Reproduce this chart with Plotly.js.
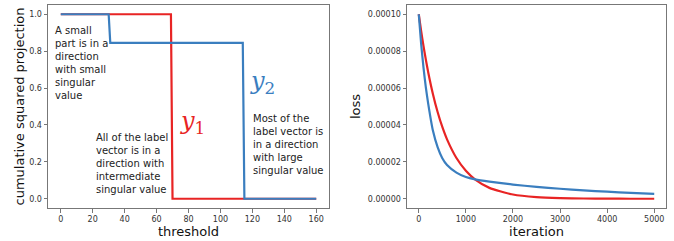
<!DOCTYPE html>
<html>
<head>
<meta charset="utf-8">
<script src="https://cdn.plot.ly/plotly-3.0.1.min.js"></script>
<style>html,body{margin:0;padding:0;background:#fff}#plot{width:674px;height:241px}</style>
</head>
<body>
<div id="plot"></div>
<script>
// Left panel: cumulative squared projection vs threshold
const thrY1 = [0, 69, 70, 160];
const projY1 = [1.0, 1.0, 0.0, 0.0];
const thrY2 = [0, 30, 31, 114, 115, 160];
const projY2 = [1.0, 1.0, 0.845, 0.845, 0.0, 0.0];

// Right panel: loss vs iteration
const iters = [0, 50, 100, 150, 200, 300, 400, 500, 600, 800, 1000, 1200, 1500, 2000, 2500, 3000, 3500, 4000, 4500, 5000];
const lossY1 = [10.0, 9.10, 8.28, 7.54, 6.86, 5.68, 4.70, 3.89, 3.22, 2.21, 1.52, 1.04, 0.59, 0.23, 0.089, 0.035, 0.014, 0.005, 0.002, 0.001].map(v => v * 1e-5);
const lossY2 = [10.0, 8.40, 7.12, 6.03, 5.16, 3.70, 2.80, 2.20, 1.83, 1.42, 1.18, 1.05, 0.93, 0.77, 0.647, 0.543, 0.455, 0.382, 0.320, 0.270].map(v => v * 1e-5);

const xTicksL = [0, 20, 40, 60, 80, 100, 120, 140, 160];
const yTicksL = [0.0, 0.2, 0.4, 0.6, 0.8, 1.0];
const yTickTextL = ['0.0', '0.2', '0.4', '0.6', '0.8', '1.0'];
const xTicksR = [0, 1000, 2000, 3000, 4000, 5000];
const yTicksR = [0, 0.00002, 0.00004, 0.00006, 0.00008, 0.0001];
const yTickTextR = ['0.00000', '0.00002', '0.00004', '0.00006', '0.00008', '0.00010'];

const RED = '#e82424';
const BLUE = '#3a7ebf';
const W = 674, H = 241;
const px = x => x / W;
const py = y => 1 - y / H;

const traces = [
  {x: thrY1, y: projY1, xaxis: 'x', yaxis: 'y', mode: 'lines', line: {color: RED, width: 2.2}, hoverinfo: 'skip'},
  {x: thrY2, y: projY2, xaxis: 'x', yaxis: 'y', mode: 'lines', line: {color: BLUE, width: 2.2}, hoverinfo: 'skip'},
  {x: iters, y: lossY1, xaxis: 'x2', yaxis: 'y2', mode: 'lines', line: {color: RED, width: 2.2, shape: 'spline', smoothing: 0.6}, hoverinfo: 'skip'},
  {x: iters, y: lossY2, xaxis: 'x2', yaxis: 'y2', mode: 'lines', line: {color: BLUE, width: 2.2, shape: 'spline', smoothing: 0.6}, hoverinfo: 'skip'}
];

const tickFont = {family: 'DejaVu Sans', size: 8, color: '#333'};
const titleFont = {family: 'DejaVu Sans', size: 13, color: '#111'};
const axCommon = {
  showgrid: false, zeroline: false, showline: true, mirror: true,
  linecolor: '#777', linewidth: 1, ticks: 'outside', ticklen: 3.5,
  tickcolor: '#555', tickwidth: 0.8, tickfont: tickFont
};

const annFont = {family: 'DejaVu Sans', size: 10, color: '#222'};
const annotations = [
  {text: 'A small<br>part is in a<br>direction<br>with small<br>singular<br>value', x: px(53), y: py(63.5), xanchor: 'left', yanchor: 'middle', align: 'left'},
  {text: 'All of the label<br>vector is in a<br>direction with<br>intermediate<br>singular value', x: px(94), y: py(163.5), xanchor: 'left', yanchor: 'middle', align: 'left'},
  {text: 'Most of the<br>label vector is<br>in a direction<br>with large<br>singular value', x: px(250.5), y: py(144), xanchor: 'left', yanchor: 'middle', align: 'left'}
].map(a => Object.assign({xref: 'paper', yref: 'paper', showarrow: false, font: annFont}, a));
annotations.push(
  {text: '<i>y</i><sub>1</sub>', x: px(178), y: py(122), xref: 'paper', yref: 'paper', xanchor: 'left', yanchor: 'middle', showarrow: false, font: {family: 'DejaVu Serif', size: 24, color: RED}},
  {text: '<i>y</i><sub>2</sub>', x: px(248), y: py(82), xref: 'paper', yref: 'paper', xanchor: 'left', yanchor: 'middle', showarrow: false, font: {family: 'DejaVu Serif', size: 24, color: BLUE}}
);

const layout = {
  width: W, height: H,
  margin: {l: 0, r: 0, t: 0, b: 0},
  paper_bgcolor: '#fff', plot_bgcolor: '#fff',
  showlegend: false,
  xaxis: Object.assign({}, axCommon, {domain: [px(48), px(329)], range: [-8, 168], tickvals: xTicksL,
    title: {text: 'threshold', font: titleFont, standoff: 2}, anchor: 'y'}),
  yaxis: Object.assign({}, axCommon, {domain: [py(208), py(5)], range: [-0.05, 1.05], tickvals: yTicksL, ticktext: yTickTextL,
    title: {text: 'cumulative squared projection', font: titleFont, standoff: 1}, anchor: 'x'}),
  xaxis2: Object.assign({}, axCommon, {domain: [px(407), px(666)], range: [-250, 5250], tickvals: xTicksR,
    title: {text: 'iteration', font: titleFont, standoff: 2}, anchor: 'y2'}),
  yaxis2: Object.assign({}, axCommon, {domain: [py(208), py(5)], range: [-0.000005, 0.000105], tickvals: yTicksR, ticktext: yTickTextR,
    title: {text: 'loss', font: titleFont, standoff: 4}, anchor: 'x2'}),
  annotations: annotations
};

Plotly.newPlot('plot', traces, layout, {staticPlot: true, displayModeBar: false});
</script>
</body>
</html>
